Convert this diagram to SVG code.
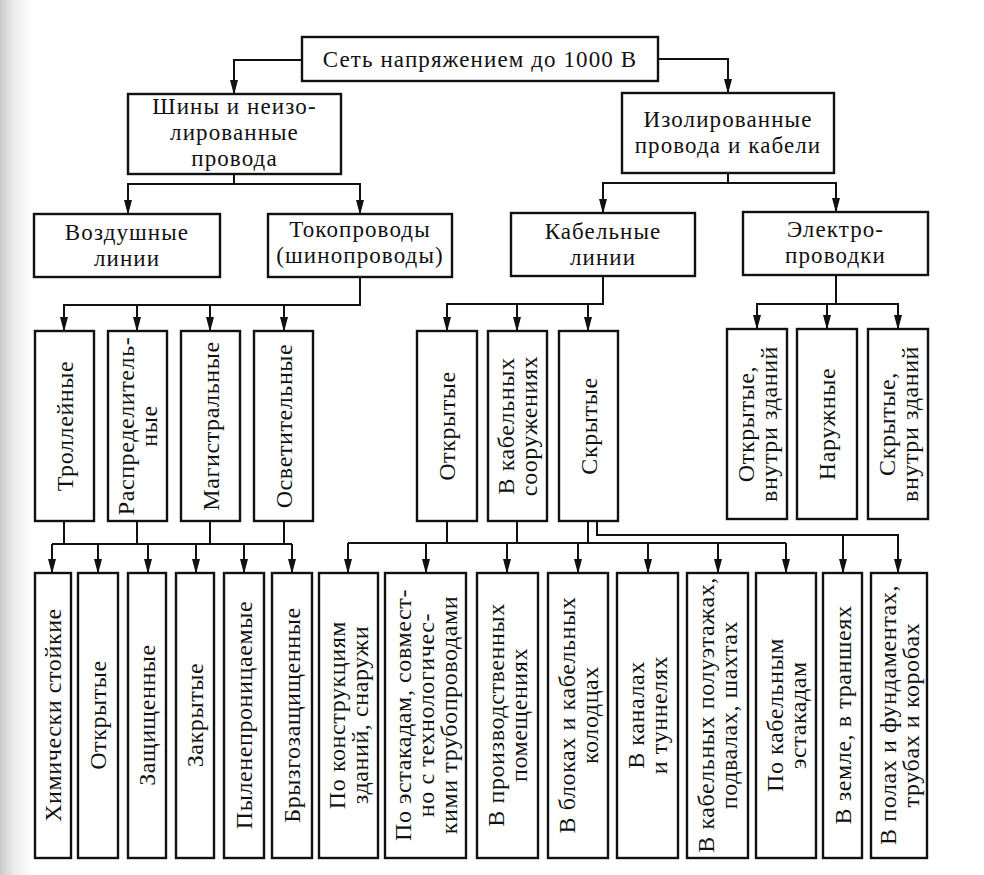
<svg xmlns="http://www.w3.org/2000/svg" width="984" height="875" viewBox="0 0 984 875">
<defs>
<linearGradient id="scan" x1="0" y1="0" x2="1" y2="0">
<stop offset="0" stop-color="#c9c9c9"/>
<stop offset="0.45" stop-color="#ececec"/>
<stop offset="1" stop-color="#ffffff"/>
</linearGradient>
<marker id="arr" markerUnits="userSpaceOnUse" markerWidth="16" markerHeight="8" refX="14" refY="4" orient="auto">
<path d="M0,0 L15,4 L0,8 Z" fill="#111"/>
</marker>
<style>
.box{fill:#fff;stroke:#111;stroke-width:2.4}
.ln{fill:none;stroke:#111;stroke-width:2}
.ar{fill:none;stroke:#111;stroke-width:2;marker-end:url(#arr)}
text{font-family:"Liberation Serif","Times New Roman",serif;font-size:24px;letter-spacing:0.6px;fill:#111;text-anchor:middle}
text.h{font-size:23px;letter-spacing:1.1px}
</style>
</defs>
<rect x="0" y="0" width="984" height="875" fill="#fff"/>
<rect x="0" y="0" width="32" height="875" fill="url(#scan)"/>

<g id="connectors">
<path class="ar" d="M302,60 H234 V94"/>
<path class="ar" d="M658,59 H728 V93"/>
<path class="ar" d="M234,174 V184 H128 V214"/>
<path class="ar" d="M234,184 H360 V214"/>
<path class="ar" d="M728,173 V183 H603 V213"/>
<path class="ar" d="M728,183 H836 V212"/>
<path class="ar" d="M360,277 V305 H64 V331"/>
<path class="ar" d="M137,305 V331"/>
<path class="ar" d="M210,305 V331"/>
<path class="ar" d="M284,305 V331"/>
<path class="ar" d="M603,276 V304 H447 V331"/>
<path class="ar" d="M517,304 V331"/>
<path class="ar" d="M588,304 V331"/>
<path class="ar" d="M836,275 V304 H757 V329"/>
<path class="ar" d="M827,304 V329"/>
<path class="ar" d="M836,304 H898 V329"/>
<path class="ln" d="M64,521 V544 M137,521 V544 M210,521 V544 M284,521 V544"/>
<path class="ln" d="M52,544 H292"/>
<path class="ar" d="M52,544 V573"/>
<path class="ar" d="M98,544 V573"/>
<path class="ar" d="M148,544 V573"/>
<path class="ar" d="M196,544 V573"/>
<path class="ar" d="M244,544 V573"/>
<path class="ar" d="M292,544 V573"/>
<path class="ln" d="M447,521 V543 M517,521 V543 M588,521 V543"/>
<path class="ln" d="M348,543 H786"/>
<path class="ar" d="M348,543 V573"/>
<path class="ar" d="M426,543 V573"/>
<path class="ar" d="M507,543 V573"/>
<path class="ar" d="M578,543 V573"/>
<path class="ar" d="M648,543 V573"/>
<path class="ar" d="M718,543 V573"/>
<path class="ar" d="M786,543 V573"/>
<path class="ar" d="M597,521 V535 H898 V573"/>
<path class="ar" d="M843,535 V573"/>
</g>

<g id="root"><rect class="box" x="302" y="37" width="356" height="44"/><text class="h" x="480" y="67">Сеть напряжением до 1000 В</text></g>

<g id="shiny"><rect class="box" x="128" y="94" width="213" height="80"/><text class="h" x="234.5" y="114.3">Шины и неизо-</text><text class="h" x="234.5" y="140">лированные</text><text class="h" x="234.5" y="165.7">провода</text></g>
<g id="izol"><rect class="box" x="622" y="93" width="212" height="80"/><text class="h" x="728" y="127">Изолированные</text><text class="h" x="728" y="153">провода и кабели</text></g>

<g id="vozd"><rect class="box" x="34" y="214" width="186" height="63"/><text class="h" x="127" y="240">Воздушные</text><text class="h" x="127" y="266">линии</text></g>
<g id="tokopr"><rect class="box" x="268" y="214" width="184" height="63"/><text class="h" x="360" y="237">Токопроводы</text><text class="h" x="360" y="263">(шинопроводы)</text></g>
<g id="kabl"><rect class="box" x="511" y="213" width="184" height="63"/><text class="h" x="603" y="239">Кабельные</text><text class="h" x="603" y="265">линии</text></g>
<g id="elektr"><rect class="box" x="743" y="212" width="185" height="63"/><text class="h" x="835.5" y="237">Электро-</text><text class="h" x="835.5" y="263">проводки</text></g>

<g id="troll"><rect class="box" x="35" y="331" width="59" height="190"/><text transform="translate(72.5,426) rotate(-90)">Троллейные</text></g>
<g id="raspr"><rect class="box" x="108" y="331" width="59" height="190"/><text transform="translate(134,426) rotate(-90)">Распределитель-</text><text transform="translate(157,426) rotate(-90)">ные</text></g>
<g id="magistr"><rect class="box" x="181" y="331" width="59" height="190"/><text transform="translate(218.5,426) rotate(-90)">Магистральные</text></g>
<g id="osvet"><rect class="box" x="254" y="331" width="59" height="190"/><text transform="translate(291.5,426) rotate(-90)">Осветительные</text></g>

<g id="kl-otkr"><rect class="box" x="417" y="331" width="60" height="190"/><text transform="translate(455,426) rotate(-90)">Открытые</text></g>
<g id="kl-soor"><rect class="box" x="488" y="331" width="59" height="190"/><text transform="translate(514,426) rotate(-90)">В кабельных</text><text transform="translate(537,426) rotate(-90)">сооружениях</text></g>
<g id="kl-skr"><rect class="box" x="559" y="331" width="59" height="190"/><text transform="translate(596.5,426) rotate(-90)">Скрытые</text></g>

<g id="ep-otkr"><rect class="box" x="727" y="329" width="60" height="190"/><text transform="translate(753.5,424) rotate(-90)">Открытые,</text><text transform="translate(776.5,424) rotate(-90)">внутри зданий</text></g>
<g id="ep-nar"><rect class="box" x="797" y="329" width="60" height="190"/><text transform="translate(835,424) rotate(-90)">Наружные</text></g>
<g id="ep-skr"><rect class="box" x="868" y="329" width="60" height="190"/><text transform="translate(894.5,424) rotate(-90)">Скрытые,</text><text transform="translate(917.5,424) rotate(-90)">внутри зданий</text></g>

<g id="b1"><rect class="box" x="35" y="573" width="36" height="285"/><text transform="translate(61,715) rotate(-90)">Химически стойкие</text></g>
<g id="b2"><rect class="box" x="78" y="573" width="40" height="285"/><text transform="translate(106,715) rotate(-90)">Открытые</text></g>
<g id="b3"><rect class="box" x="128" y="573" width="38" height="285"/><text transform="translate(155,715) rotate(-90)">Защищенные</text></g>
<g id="b4"><rect class="box" x="176" y="573" width="38" height="285"/><text transform="translate(203,715) rotate(-90)">Закрытые</text></g>
<g id="b5"><rect class="box" x="224" y="573" width="40" height="285"/><text transform="translate(252,715) rotate(-90)">Пыленепроницаемые</text></g>
<g id="b6"><rect class="box" x="272" y="573" width="40" height="285"/><text transform="translate(300,715) rotate(-90)">Брызгозащищенные</text></g>
<g id="b7"><rect class="box" x="319" y="573" width="59" height="285"/><text transform="translate(345,715) rotate(-90)">По конструкциям</text><text transform="translate(368,715) rotate(-90)">зданий, снаружи</text></g>
<g id="b8"><rect class="box" x="385" y="573" width="81" height="285"/><text transform="translate(410.5,715) rotate(-90)">По эстакадам, совмест-</text><text transform="translate(433.5,715) rotate(-90)">но с технологичес-</text><text transform="translate(456.5,715) rotate(-90)">кими трубопроводами</text></g>
<g id="b9"><rect class="box" x="477" y="573" width="61" height="285"/><text transform="translate(504,715) rotate(-90)">В производственных</text><text transform="translate(527,715) rotate(-90)">помещениях</text></g>
<g id="b10"><rect class="box" x="548" y="573" width="60" height="285"/><text transform="translate(574.5,715) rotate(-90)">В блоках и кабельных</text><text transform="translate(597.5,715) rotate(-90)">колодцах</text></g>
<g id="b11"><rect class="box" x="617" y="573" width="61" height="285"/><text transform="translate(644,715) rotate(-90)">В каналах</text><text transform="translate(667,715) rotate(-90)">и туннелях</text></g>
<g id="b12"><rect class="box" x="687" y="573" width="61" height="285"/><text transform="translate(714,715) rotate(-90)">В кабельных полуэтажах,</text><text transform="translate(737,715) rotate(-90)">подвалах, шахтах</text></g>
<g id="b13"><rect class="box" x="756" y="573" width="60" height="285"/><text transform="translate(782.5,715) rotate(-90)">По кабельным</text><text transform="translate(805.5,715) rotate(-90)">эстакадам</text></g>
<g id="b14"><rect class="box" x="823" y="573" width="39" height="285"/><text transform="translate(850.5,715) rotate(-90)">В земле, в траншеях</text></g>
<g id="b15"><rect class="box" x="871" y="573" width="56" height="285"/><text transform="translate(895.5,715) rotate(-90)">В полах и фундаментах,</text><text transform="translate(918.5,715) rotate(-90)">трубах и коробах</text></g>
</svg>
